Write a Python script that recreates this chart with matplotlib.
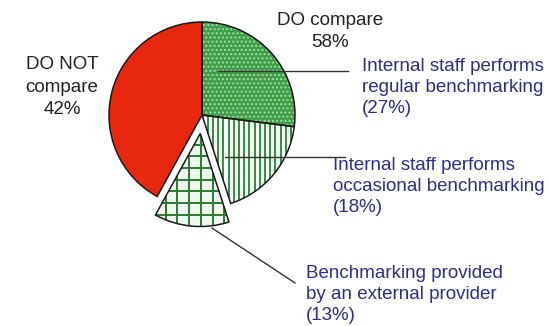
import numpy as np
import matplotlib.pyplot as plt
from matplotlib.patches import Wedge

plt.rcParams["font.family"] = ["Liberation Sans", "DejaVu Sans"]

# share of firms, clockwise from 12 o'clock
segments = [
    "Internal staff performs\nregular benchmarking",
    "Internal staff performs\noccasional benchmarking",
    "Benchmarking provided\nby an external provider",
    "DO NOT\ncompare",
]
shares = [27, 18, 13, 42]
compare_total = sum(shares[:3])

faces = ["#3f9d48", "#f2faf2", "#eef8ee", "#e8280e"]

W, H = 549, 326
fig = plt.figure(figsize=(W / 100, H / 100), dpi=100)
ax = fig.add_axes([0, 0, 1, 1])

cx, cy, r = 202, 211, 93
explode = [0, 0, 0.2 * r, 0]
wedges, _ = ax.pie(shares, startangle=90, counterclock=False, explode=explode,
                   center=(cx, cy), radius=r, colors=faces, frame=True,
                   wedgeprops=dict(linewidth=0))
ax.set_xlim(0, W)
ax.set_ylim(0, H)
ax.set_aspect("equal")
ax.axis("off")

# fine dot texture on the regular-benchmarking slice
wedges[0].set_hatch("....")
wedges[0].set_edgecolor("#a5dba6")


def line_fill(wedge, step, vertical=True, horizontal=False, color="#2a8236", lw=1.3):
    x0, y0 = wedge.center
    rr = wedge.r
    segs = []
    if vertical:
        for x in np.arange(x0 - rr, x0 + rr, step):
            segs.append(([x, x], [y0 - rr, y0 + rr]))
    if horizontal:
        for y in np.arange(y0 - rr, y0 + rr, step):
            segs.append(([x0 - rr, x0 + rr], [y, y]))
    for xs, ys in segs:
        ln, = ax.plot(xs, ys, color=color, lw=lw, zorder=2)
        ln.set_clip_path(wedge)


line_fill(wedges[1], 5.2)
line_fill(wedges[2], 11.7, horizontal=True, color="#2a7a34", lw=1.4)

# dark outlines on top of the textures
for w in wedges:
    ax.add_patch(Wedge(w.center, w.r, w.theta1, w.theta2, fill=False,
                       edgecolor="#1a1a1a", linewidth=1.1, zorder=3))

ink = "#222222"
blue = "#2d2d8c"
fs = 13.5
# y values below are the baseline of each block's last line
ax.text(330, 279, f"DO compare\n{compare_total}%", ha="center", va="baseline",
        fontsize=fs, color=ink, linespacing=1.35, multialignment="center")
ax.text(62, 212, f"{segments[3]}\n{shares[3]}%", ha="center", va="baseline",
        fontsize=fs, color=ink, linespacing=1.42, multialignment="center")

labels = [
    (362, 213, (218, 255), (348, 255)),
    (333, 114, (225, 169), (345, 169)),
    (306, 6, (212, 98), (295, 43)),
]
for (tx, ty, p0, p1), name, val in zip(labels, segments[:3], shares[:3]):
    ax.plot([p0[0], p1[0]], [p0[1], p1[1]], color="#333333", lw=1.0, zorder=4)
    ax.text(tx, ty, f"{name}\n({val}%)", ha="left", va="baseline", fontsize=fs,
            color=blue, linespacing=1.3)

fig.savefig("out.png", dpi=100)
